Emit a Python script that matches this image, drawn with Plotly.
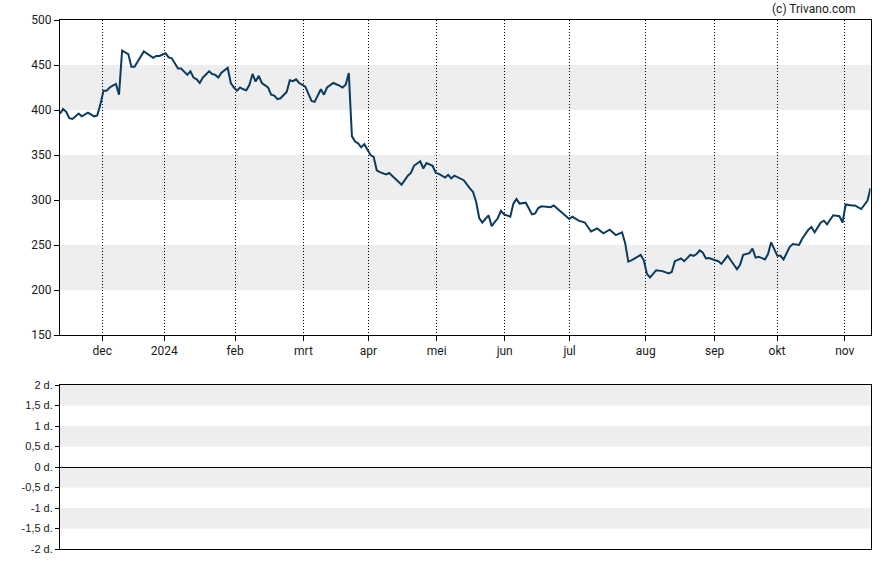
import plotly.graph_objects as go

# ---- data (trading-day index, close price) ----
day_index = [0, 1, 2, 3, 4, 6, 7, 9, 11, 12, 13, 14, 15, 16, 17, 18, 19, 20, 22, 23, 24, 26, 27,
             30, 31, 32, 34, 35, 36, 38, 39, 41, 42, 43, 44, 45, 46, 48, 49, 50, 51, 52, 54,
             55, 56, 57, 58, 59, 60, 61, 62, 63, 64, 65, 67, 68, 69, 70, 71, 73, 74, 75, 76, 77,
             79, 81, 82, 84, 85, 86, 88, 90, 91, 92, 93, 94, 95, 96, 97, 98, 99, 100, 101, 102,
             103, 105, 106, 108, 109, 110, 112, 113, 114, 116, 117, 118, 120, 121, 122, 124, 125,
             126, 127, 129, 130, 132, 133, 134, 135, 136, 137, 138, 139, 141, 142, 143, 145, 146,
             147, 148, 150, 152, 153, 154, 155, 158, 159, 161, 162, 164, 165, 167, 169, 171, 173,
             175, 177, 179, 181, 182, 183, 184, 187, 188, 189, 190, 192, 194, 196, 197, 198, 200,
             201, 203, 204, 205, 206, 207, 208, 209, 211, 212, 213, 215, 216, 218, 219, 220, 222,
             223, 224, 225, 227, 228, 229, 230, 231, 232, 233, 235, 236, 238, 239, 241, 242, 243,
             245, 246, 247, 249, 251, 252, 253, 255, 256, 258, 260, 261]
close = [396, 401, 398, 391, 390, 396, 393, 397, 393, 394, 406, 421.5, 421.5, 425, 427, 429, 417, 466,
         462, 448, 448, 459, 465,
         458, 460, 460, 463, 458.5, 457.4, 446, 446, 439, 443, 436, 434, 430, 436, 443, 440, 439, 436, 441.5, 447,
         430, 425, 421.5, 425, 423, 422, 428, 440, 431.5, 438, 430, 425, 417, 416, 412, 413, 420, 433, 432, 434, 430,
         426, 410, 409, 423, 417, 425, 430, 427, 425, 428, 441, 371, 365, 363, 358.5, 362, 356, 350, 348, 333,
         331, 328.5, 330, 323, 320, 317, 327, 330, 338, 343, 335, 341, 338, 330, 329, 325, 328,
         324, 327, 324, 322, 313, 309, 298, 280, 275, 278.5, 283, 271, 280, 288, 284, 281.5, 296,
         301, 296, 297, 284, 285, 291, 293, 292, 294, 288, 285, 279, 281.5, 277, 275, 265, 268.5,
         263, 267, 261, 264, 252, 231.5, 233, 239, 233, 218, 214, 222, 221, 218.5, 220, 232, 235,
         232, 239, 238, 240, 244, 241.5, 235, 235.6, 233, 232, 229, 238, 233, 223, 228, 239, 241,
         246, 236, 237, 234, 240, 253, 246, 238, 238, 234, 248, 251, 250, 257, 267, 270, 264,
         275, 277, 273, 283, 282, 275, 295, 294, 294, 290, 299, 313]

month_pos = [13.6, 33.6, 56.4, 78.4, 99.3, 121.3, 143.2, 164.1, 188.6, 210.8, 230.9, 252.7]
month_labels = ["dec", "2024", "feb", "mrt", "apr", "mei", "jun", "jul", "aug", "sep", "okt", "nov"]

price_ticks = [150, 200, 250, 300, 350, 400, 450, 500]
price_bands = [(200, 250), (300, 350), (400, 450)]

lower_ticks = [-2, -1.5, -1, -0.5, 0, 0.5, 1, 1.5, 2]
lower_labels = ["-2 d.", "-1,5 d.", "-1 d.", "-0,5 d.", "0 d.", "0,5 d.", "1 d.", "1,5 d.", "2 d."]
lower_bands = [(1.5, 2), (0.5, 1), (-0.5, 0), (-1.5, -1)]

W, H = 888, 565
xd = [60 / W, 870.5 / W]

fig = go.Figure()
fig.add_trace(go.Scatter(x=day_index, y=close, mode="lines",
                         line=dict(color="#0b3b5e", width=2), xaxis="x", yaxis="y",
                         hoverinfo="skip"))
# empty trace on the lower panel so its axes render
fig.add_trace(go.Scatter(x=[day_index[0]], y=[None], mode="lines", xaxis="x2", yaxis="y2",
                         showlegend=False, hoverinfo="skip"))

shapes = []
for lo, hi in price_bands:
    shapes.append(dict(type="rect", xref="x domain", yref="y", x0=0, x1=1, y0=lo, y1=hi,
                       fillcolor="#eeeeee", line_width=0, layer="below"))
for lo, hi in lower_bands:
    shapes.append(dict(type="rect", xref="x2 domain", yref="y2", x0=0, x1=1, y0=lo, y1=hi,
                       fillcolor="#eeeeee", line_width=0, layer="below"))

tickfont = dict(family="Roboto, sans-serif", size=12, color="#1a1a1a")
fig.update_layout(
    width=W, height=H,
    margin=dict(l=0, r=0, t=0, b=0, autoexpand=False),
    paper_bgcolor="white", plot_bgcolor="white",
    showlegend=False,
    shapes=shapes,
    xaxis=dict(domain=xd, anchor="y", range=[0, 261], tickmode="array",
               tickvals=month_pos, ticktext=month_labels, ticks="outside", ticklen=5,
               tickcolor="black", showgrid=True, gridcolor="black", griddash="1px,2px",
               gridwidth=1, showline=True, linecolor="black", linewidth=1, mirror=True,
               zeroline=False, tickfont=tickfont, automargin=False),
    yaxis=dict(domain=[1 - 335 / H, 1 - 20 / H], anchor="x", range=[150, 500],
               tickmode="array", tickvals=price_ticks, ticks="outside", ticklen=5,
               tickcolor="black", showgrid=False, showline=True, linecolor="black",
               linewidth=1, mirror=True, zeroline=False, tickfont=tickfont,
               automargin=False),
    xaxis2=dict(domain=xd, anchor="y2", range=[0, 261], showticklabels=False, ticks="",
                showgrid=False, showline=True, linecolor="black", linewidth=1, mirror=True,
                zeroline=False, automargin=False),
    yaxis2=dict(domain=[1 - 549 / H, 1 - 385 / H], anchor="x2", range=[-2, 2],
                tickmode="array", tickvals=lower_ticks, ticktext=lower_labels,
                ticks="outside", ticklen=4, tickcolor="black", showgrid=False,
                showline=True, linecolor="black", linewidth=1, mirror=True,
                zeroline=True, zerolinecolor="black", zerolinewidth=1, automargin=False,
                tickfont=dict(family="Liberation Sans, Arial, sans-serif", size=11,
                              color="#1a1a1a")),
    annotations=[dict(text="(c) Trivano.com", xref="paper", yref="paper",
                      x=858 / W, y=1 - 9 / H, xanchor="right", yanchor="middle",
                      showarrow=False,
                      font=dict(family="Roboto, sans-serif", size=12, color="#1a1a1a"))],
)

fig.write_html("out.html")
